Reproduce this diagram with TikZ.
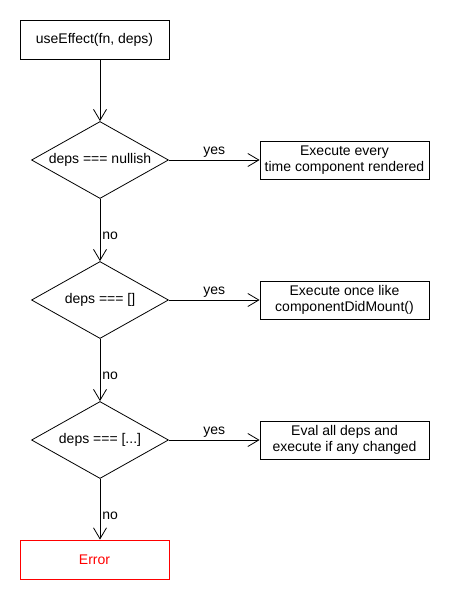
\documentclass[tikz,border=0pt]{standalone}
\usepackage{fontspec}
\setmainfont{Liberation Sans}
\usetikzlibrary{shapes.geometric, arrows.meta, positioning}

\begin{document}
\begin{tikzpicture}[
    x=1pt, y=-1pt, line width=0.8pt,
    font=\fontsize{14}{15.5}\selectfont,
    box/.style={rectangle, draw, minimum width=169pt, minimum height=38pt, align=center, inner sep=2pt},
    decision/.style={diamond, draw, minimum width=137pt, minimum height=77pt, inner sep=0pt, aspect=1.78},
    arrow/.style={-{Straight Barb[length=11pt, width=13pt]}},
    label/.style={inner sep=2pt}
  ]
    \useasboundingbox (0,0) rectangle (450,600);

    % Entry
    \node[box, minimum width=149pt, minimum height=39pt] (entry) at (94.5,39.5) {useEffect(fn, deps)};

    % Decisions
    \node[decision] (nullish) at (100,160) {deps === nullish};
    \node[decision] (empty) at (100,300) {deps === []};
    \node[decision] (listed) at (100,440) {deps === [...]};

    % Outcomes
    \node[box] (every) at (344.5,160) {Execute every\\time component rendered};
    \node[box] (once) at (344.5,300) {Execute once like\\componentDidMount()};
    \node[box] (changed) at (344.5,440) {Eval all deps and\\execute if any changed};
    \node[box, draw=red, text=red, minimum width=149pt, minimum height=39pt] (error) at (94.5,559.5) {Error};

    % Arrows
    \draw[arrow] (entry.south -| nullish.north) -- (nullish.north);
    \draw[arrow] (nullish.south) -- node[label, right, pos=.6] {no} (empty.north);
    \draw[arrow] (empty.south) -- node[label, right, pos=.6] {no} (listed.north);
    \draw[arrow] (listed.south) -- node[label, right, pos=.6] {no} (listed.south |- error.north);

    \draw[arrow] (nullish.east) -- node[label, above] {yes} (every.west);
    \draw[arrow] (empty.east) -- node[label, above] {yes} (once.west);
    \draw[arrow] (listed.east) -- node[label, above] {yes} (changed.west);

  \end{tikzpicture}
\end{document}
